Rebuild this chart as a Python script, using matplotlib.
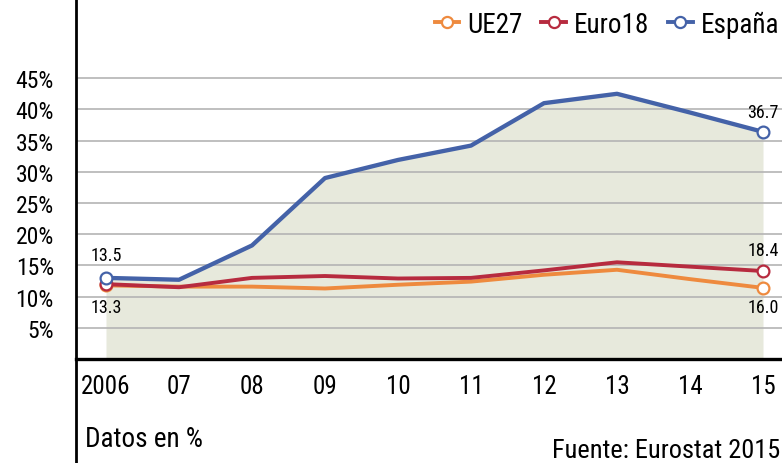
import matplotlib
matplotlib.use("Agg")
import matplotlib.pyplot as plt
from matplotlib.lines import Line2D

plt.rcParams['font.family'] = ['Roboto Condensed', 'DejaVu Sans']

years = [2006, 2007, 2008, 2009, 2010, 2011, 2012, 2013, 2014, 2015]
year_labels = ['2006', '07', '08', '09', '10', '11', '12', '13', '14', '15']
ue27 = [11.8, 11.6, 11.6, 11.3, 11.9, 12.4, 13.5, 14.3, 12.8, 11.4]
euro18 = [12.0, 11.5, 13.0, 13.3, 12.9, 13.0, 14.2, 15.5, 14.8, 14.1]
espana = [13.0, 12.7, 18.2, 29.0, 31.9, 34.2, 41.0, 42.5, 39.5, 36.4]
yticks = [5, 10, 15, 20, 25, 30, 35, 40, 45]

# etiquetas de los extremos (texto tal cual en el original)
lbl_esp = ['13.5', '36.7']
lbl_euro = ['13.3', '18.4']
lbl_ue = ['16.0']

c_ue = '#ee8a3e'
c_euro = '#b72b3f'
c_esp = '#4462a8'
c_fill = '#e7e9dc'

fig = plt.figure(figsize=(7.82, 4.64), dpi=100)
ax = fig.add_axes([76 / 782, 1 - 360 / 464, 1 - 76 / 782, 360 / 464])

ax.fill_between(years, espana, 0, color=c_fill, lw=0, zorder=1)
for v in yticks:
    ax.axhline(v, color='#b4b4b4', lw=1.2, zorder=2)

mk = dict(marker='o', markersize=8.5, markerfacecolor='white', markeredgewidth=1.6, markevery=[0, 9])
ax.plot(years, ue27, color=c_ue, lw=2.8, zorder=3, **mk)
ax.plot(years, euro18, color=c_euro, lw=2.8, zorder=4, **mk)
ax.plot(years, espana, color=c_esp, lw=3.1, zorder=5, **mk)

fs_lab = 13
ax.annotate(lbl_esp[0], (years[0], espana[0]), xytext=(0, 10), textcoords='offset points',
            ha='center', va='bottom', fontsize=fs_lab)
ax.annotate(lbl_euro[0], (years[0], euro18[0]), xytext=(0, -10), textcoords='offset points',
            ha='center', va='top', fontsize=fs_lab)
ax.annotate(lbl_esp[1], (years[-1], espana[-1]), xytext=(0, 8), textcoords='offset points',
            ha='center', va='bottom', fontsize=fs_lab)
ax.annotate(lbl_euro[1], (years[-1], euro18[-1]), xytext=(0, 9), textcoords='offset points',
            ha='center', va='bottom', fontsize=fs_lab)
ax.annotate(lbl_ue[0], (years[-1], ue27[-1]), xytext=(0, -7), textcoords='offset points',
            ha='center', va='top', fontsize=fs_lab)

ax.set_xlim(2006 - 30 / 73, 2015 + 19 / 73)
ax.set_ylim(0, 360 / 6.24)
ax.set_yticks(yticks)
ax.set_yticklabels([f'{v}%' for v in yticks], fontsize=17)
ax.set_xticks(years)
ax.set_xticklabels(year_labels, fontsize=18)
ax.tick_params(axis='both', length=0)
ax.tick_params(axis='y', pad=16)
ax.tick_params(axis='x', pad=11)
for s in ['top', 'right']:
    ax.spines[s].set_visible(False)
ax.spines['left'].set_linewidth(2)
ax.spines['bottom'].set_linewidth(2.4)
ax.spines['left'].set_zorder(6)
ax.spines['bottom'].set_zorder(6)

# prolongar el eje vertical hasta el borde inferior
fig.add_artist(Line2D([76 / 782, 76 / 782], [0, 1 - 360 / 464], color='black', lw=2))

handles = [Line2D([], [], color=c, lw=2.8, marker='o', markersize=8, markerfacecolor='white',
                  markeredgewidth=1.6) for c in (c_ue, c_euro, c_esp)]
fig.legend(handles, ['UE27', 'Euro18', 'España'], loc='center right', ncol=3,
           bbox_to_anchor=(1.0 + 8 / 782, 1 - 25 / 464), frameon=False, fontsize=19.5,
           handlelength=0.9, handletextpad=0.3, columnspacing=0.7, borderaxespad=0)

fig.text(85 / 782, 1 - 440 / 464, 'Datos en %', fontsize=19.5, va='center', ha='left')
fig.text(780 / 782, 1 - 451 / 464, 'Fuente: Eurostat 2015', fontsize=19, va='center', ha='right')

fig.savefig('out.png', dpi=100)
